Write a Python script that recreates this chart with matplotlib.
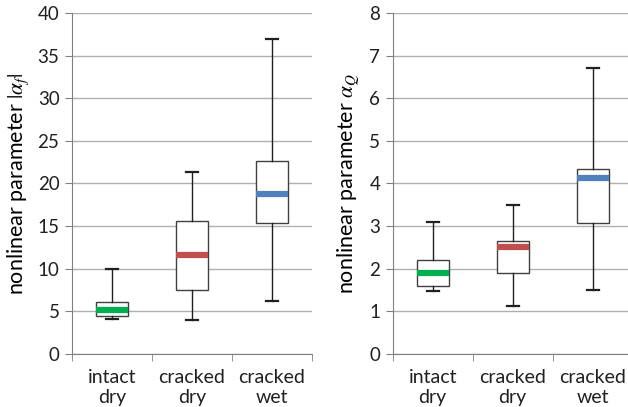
import matplotlib.pyplot as plt

plt.rcParams['font.family'] = ['Lato', 'DejaVu Sans']
plt.rcParams['mathtext.fontset'] = 'stix'

labels = ['intact\ndry', 'cracked\ndry', 'cracked\nwet']
colors = ['#00b050', '#c0504d', '#4f81bd']

# box statistics: low whisker, q1, median, q3, high whisker
af_low = [4.1, 4.0, 6.2]
af_q1 = [4.45, 7.45, 15.35]
af_med = [5.2, 11.65, 18.8]
af_q3 = [6.1, 15.65, 22.6]
af_high = [10.0, 21.3, 36.95]

aq_low = [1.48, 1.12, 1.5]
aq_q1 = [1.59, 1.89, 3.08]
aq_med = [1.91, 2.5, 4.14]
aq_q3 = [2.2, 2.66, 4.33]
aq_high = [3.09, 3.5, 6.7]

fig = plt.figure(figsize=(6.28, 4.07), dpi=100)
ax1 = fig.add_axes([0.1146, 0.1302, 0.382, 0.838])
ax2 = fig.add_axes([0.6253, 0.1302, 0.382, 0.838])


def draw(ax, low, q1, med, q3, high, ymax, ylabel):
    stats = []
    for i in range(len(labels)):
        stats.append({'whislo': low[i], 'q1': q1[i], 'med': med[i],
                      'q3': q3[i], 'whishi': high[i], 'fliers': []})
    bp = ax.bxp(stats, positions=[1, 2, 3], widths=0.4, showfliers=False,
                capwidths=0.15, patch_artist=True,
                boxprops=dict(facecolor='white', edgecolor='#404040', linewidth=1),
                whiskerprops=dict(color='#202020', linewidth=1),
                capprops=dict(color='#202020', linewidth=1.6),
                medianprops=dict(linewidth=4.5, solid_capstyle='butt'))
    for line, c in zip(bp['medians'], colors):
        line.set_color(c)
    ax.set_xlim(0.5, 3.5)
    ax.set_ylim(0, ymax)
    ax.set_yticks(range(0, ymax + 1, ymax // 8))
    ax.grid(axis='y', color='#b0b0b0', linewidth=1)
    ax.set_axisbelow(True)
    ax.set_xticks([1, 2, 3])
    ax.set_xticklabels(labels, fontsize=14, linespacing=1.2, color='#202020')
    ax.set_xticks([0.5, 1.5, 2.5, 3.5], minor=True)
    ax.tick_params(axis='x', which='major', length=0, pad=11)
    ax.tick_params(axis='x', which='minor', length=5, color='#808080')
    ax.tick_params(axis='y', length=5, color='#808080', labelsize=13.5, pad=4,
                   labelcolor='#202020')
    for s in ['top', 'right']:
        ax.spines[s].set_visible(False)
    ax.spines['left'].set_color('#808080')
    ax.spines['bottom'].set_color('#808080')
    ax.set_ylabel(ylabel, fontsize=15.5, labelpad=5)


draw(ax1, af_low, af_q1, af_med, af_q3, af_high, 40, r'nonlinear parameter $|\alpha_f|$')
draw(ax2, aq_low, aq_q1, aq_med, aq_q3, aq_high, 8, r'nonlinear parameter $\alpha_Q$')

fig.savefig('out.png', dpi=100)
